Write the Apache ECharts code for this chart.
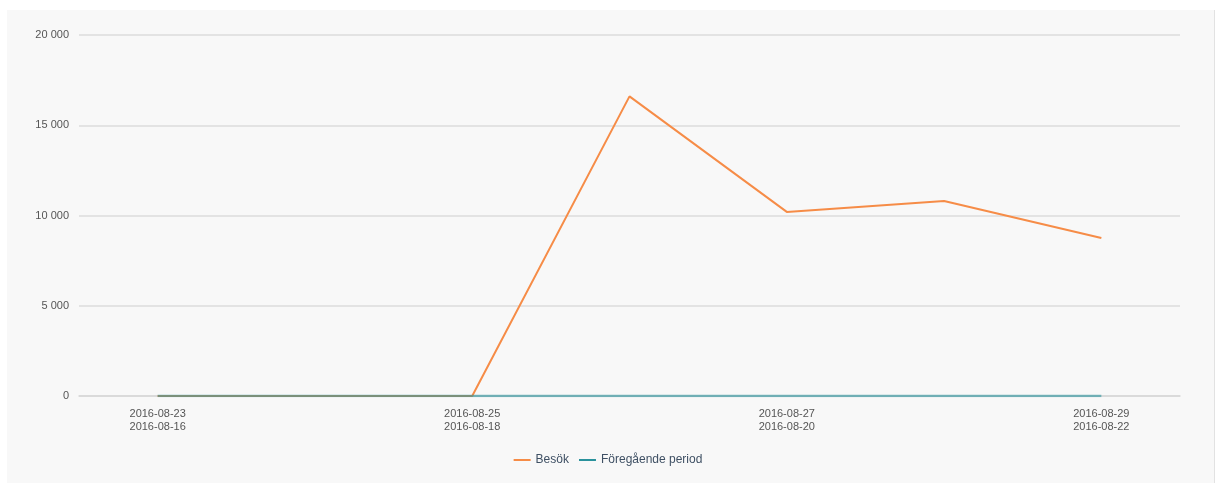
<!DOCTYPE html>
<html>
<head>
<meta charset="utf-8">
<script src="https://cdn.jsdelivr.net/npm/echarts@6/dist/echarts.min.js"></script>
<style>
  body { margin: 0; background: #fff; }
  #panel { position: absolute; left: 7px; top: 10px; width: 1207px; height: 473px; background: #f8f8f8; border-right: 1px solid #e2e2e2; }
  #main { position: absolute; left: 0; top: 0; width: 1216px; height: 483px; }
</style>
</head>
<body>
<div id="panel"></div>
<div id="main"></div>
<script>
var days = ['2016-08-23', '2016-08-24', '2016-08-25', '2016-08-26', '2016-08-27', '2016-08-28', '2016-08-29'];
var prevDays = ['2016-08-16', '2016-08-17', '2016-08-18', '2016-08-19', '2016-08-20', '2016-08-21', '2016-08-22'];
var besok = [0, 0, 0, 16600, 10200, 10800, 8750];
var foregaende = [0, 0, 0, 0, 0, 0, 0];

var categories = days.map(function (d, i) { return d + '\n' + prevDays[i]; });

var myChart = echarts.init(document.getElementById('main'));
var option = {
    backgroundColor: 'transparent',
    grid: {
        left: 79,
        right: 36,
        top: 35,
        bottom: 87
    },
    legend: {
        bottom: 12,
        left: 'center',
        itemWidth: 17,
        itemHeight: 2,
        itemGap: 10,
        icon: 'rect',
        textStyle: { color: '#3f5064', fontSize: 12, fontFamily: 'Arial, Liberation Sans' },
        data: ['Besök', 'Föregående period']
    },
    xAxis: {
        type: 'category',
        data: categories,
        axisLine: { lineStyle: { color: '#d6d6d6', width: 1.5 } },
        axisTick: { alignWithLabel: true, interval: 1, length: 5, lineStyle: { color: '#9fbccb', width: 1.5 } },
        axisLabel: {
            interval: 1,
            color: '#555',
            fontSize: 11,
            lineHeight: 13,
            margin: 11,
            fontFamily: 'Arial, Liberation Sans'
        }
    },
    yAxis: {
        type: 'value',
        min: 0,
        max: 20000,
        interval: 5000,
        axisLine: { show: false },
        axisTick: { show: false },
        splitLine: { lineStyle: { color: '#dcdcdc', width: 1.5 } },
        axisLabel: {
            color: '#555',
            fontSize: 11,
            margin: 10,
            fontFamily: 'Arial, Liberation Sans',
            formatter: function (v) { return String(v).replace(/\B(?=(\d{3})+(?!\d))/g, ' '); }
        }
    },
    series: [{
        name: 'Besök',
        type: 'line',
        data: besok,
        showSymbol: false,
        color: '#f68c47',
        lineStyle: { width: 2 }
    },
    {
        name: 'Föregående period',
        type: 'line',
        data: foregaende,
        showSymbol: false,
        color: '#2a929c',
        lineStyle: { width: 2.5, opacity: 0.6 }
    }]
};
myChart.setOption(option);
</script>
</body>
</html>
